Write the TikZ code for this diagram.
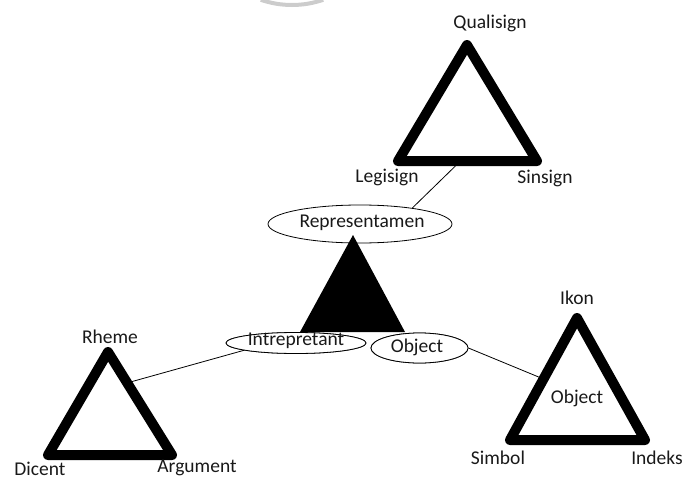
\documentclass[tikz,border=0pt]{standalone}
\usepackage{fontspec}
\setmainfont{Carlito}
\usetikzlibrary{shapes.geometric,calc}
\begin{document}
\begin{tikzpicture}[x=1pt,y=-1pt,
  lbl/.style={inner sep=0pt,font=\fontsize{19.5}{22}\selectfont,text=black!90},
  ell/.style={draw,fill=white,ellipse,inner sep=0pt,line width=0.8pt},
  tri/.style={line width=10pt,line join=round},
  conn/.style={line width=0.8pt}]
\useasboundingbox (0,0) rectangle (683,479);
% watermark arc
\draw[line width=4pt,color=black!20] (292,-91) ++(71:96) arc[start angle=71,end angle=109,radius=96];
% triangle vertices
\coordinate (qa) at (467,45);
\coordinate (qb) at (398,161);
\coordinate (qc) at (537,161);
\coordinate (ra) at (108,352);
\coordinate (rb) at (48,455);
\coordinate (rc) at (172,455);
\coordinate (ia) at (577,318);
\coordinate (ib) at (510,440);
\coordinate (ic) at (645,440);
\coordinate (ba) at (353,235);
\coordinate (bb) at (300,332);
\coordinate (bc) at (405,332);
% ellipses
\node[ell,minimum width=184pt,minimum height=38pt] (rep) at (360,224) {};
\node[ell,minimum width=140pt,minimum height=21pt] (interp) at (296,343) {};
\node[ell,minimum width=97pt,minimum height=30pt] (obj) at (419.5,348) {};
% connectors (under triangles)
\coordinate (qe) at ($(qb)!0.45!(qc)$);
\coordinate (re) at ($(ra)!0.3!(rc)$);
\coordinate (ie) at ($(ib)!0.5!(ia)$);
\draw[conn] (qe) -- (rep.17);
\draw[conn] (re) -- (interp.188);
\draw[conn] (obj.east) -- (ie);
% black triangle over the representamen ellipse
\fill[black] (ba) -- (bb) -- (bc) -- cycle;
\node[ell,minimum width=140pt,minimum height=21pt] at (interp) {};
\node[ell,minimum width=97pt,minimum height=30pt] at (obj) {};
% outline triangles
\draw[tri] (qa) -- (qb) -- (qc) -- cycle;
\draw[tri] (ra) -- (rb) -- (rc) -- cycle;
\draw[tri] (ia) -- (ib) -- (ic) -- cycle;
% labels
\node[lbl] (tqual) at (490,23) {Qualisign};
\node[lbl] (tlegi) at (387,177) {Legisign};
\node[lbl] (tsins) at (545,178) {Sinsign};
\node[lbl] (trep) at (362,223) {Representamen};
\node[lbl] (tint) at (296,341) {Intrepretant};
\node[lbl] (tobj) at (417,347) {Object};
\node[lbl] (trhe) at (110,337) {Rheme};
\node[lbl] (tdic) at (40,469) {Dicent};
\node[lbl] (targ) at (197,468) {Argument};
\node[lbl] (tikon) at (577,298) {Ikon};
\node[lbl] (tobj2) at (577,398) {Object};
\node[lbl] (tsim) at (498,458) {Simbol};
\node[lbl] (tind) at (657,458) {Indeks};
\end{tikzpicture}
\end{document}
